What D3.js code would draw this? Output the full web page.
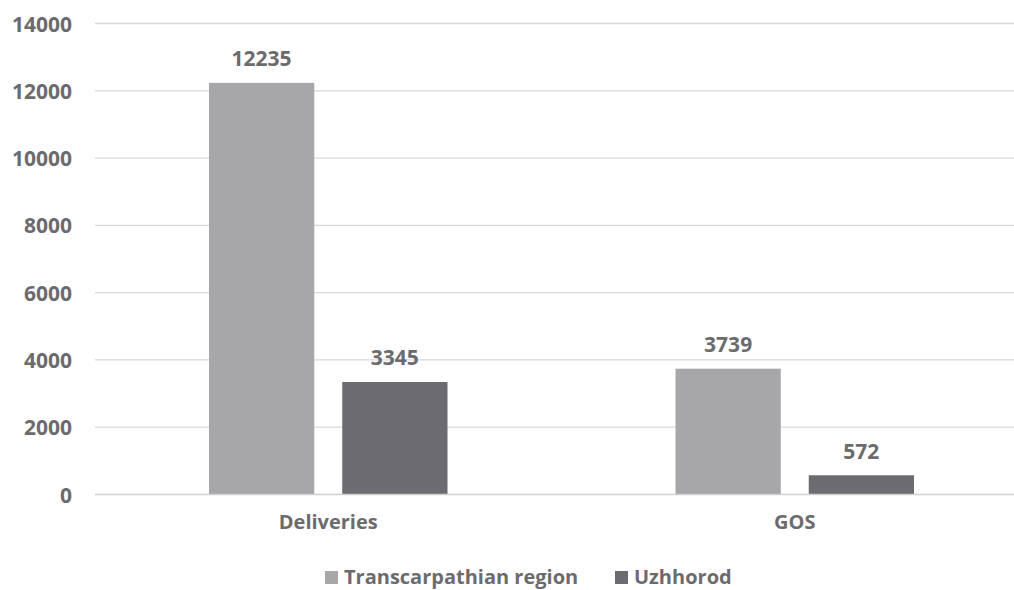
<!DOCTYPE html>
<html>
<head>
<meta charset="utf-8">
<script src="https://cdn.jsdelivr.net/npm/d3@7"></script>
<style>
    body { margin: 0; background: #fff; }
    text { font-family: "Open Sans", sans-serif; font-weight: bold; fill: #6b6b6d; }
</style>
</head>
<body>
<svg id="chart" width="1014" height="590"></svg>
<script>
(function () {
    "use strict";

    var categories = ["Deliveries", "GOS"];
    var seriesNames = ["Transcarpathian region", "Uzhhorod"];
    var regionValues = [12235, 3739];
    var uzhhorodValues = [3345, 572];
    var yTicks = [0, 2000, 4000, 6000, 8000, 10000, 12000, 14000];
    var colors = ["#a7a7aa", "#6c6c70"];

    var svg = d3.select("#chart");
    var left = 95, right = 1028, top = 23.5, bottom = 494.5;

    var x0 = d3.scaleBand().domain(categories).range([left, right]);
    var x1 = d3.scaleBand().domain(seriesNames)
        .range([114, x0.bandwidth() - 114]).paddingInner(0.21);
    var y = d3.scaleLinear().domain([0, 14000]).range([bottom, top]);

    // gridlines
    svg.append("g")
        .selectAll("line")
        .data(yTicks.slice(1))
        .enter().append("line")
        .attr("x1", left).attr("x2", 1014)
        .attr("y1", function(d){ return y(d); })
        .attr("y2", function(d){ return y(d); })
        .attr("stroke", "#d9d9d9").attr("stroke-width", 1.3);

    // y labels
    var yAxis = svg.append("g")
        .attr("transform", "translate(72,0)")
        .call(d3.axisLeft(y).tickValues(yTicks).tickFormat(d3.format("d"))
            .tickSize(0).tickPadding(0));
    yAxis.select(".domain").remove();
    yAxis.selectAll("text")
        .attr("font-size", 21).attr("fill", null)
        .attr("font-family", null).attr("dy", "0.36em");

    var rows = categories.map(function(c, i){
        return { cat: c, vals: [regionValues[i], uzhhorodValues[i]] };
    });

    var groups = svg.append("g").selectAll("g")
        .data(rows)
        .enter().append("g")
        .attr("transform", function(d){ return "translate(" + x0(d.cat) + ",0)"; });

    var cells = groups.selectAll("g")
        .data(function(d){
            return d.vals.map(function(v, j){ return { name: seriesNames[j], v: v, j: j }; });
        })
        .enter().append("g");

    cells.append("rect")
        .attr("x", function(d){ return x1(d.name); })
        .attr("width", x1.bandwidth())
        .attr("y", function(d){ return y(d.v); })
        .attr("height", function(d){ return y(0) - y(d.v); })
        .attr("fill", function(d){ return colors[d.j]; });

    cells.append("text")
        .attr("x", function(d){ return x1(d.name) + x1.bandwidth() / 2; })
        .attr("y", function(d){ return y(d.v) - 16.5; })
        .attr("text-anchor", "middle")
        .attr("font-size", 21)
        .text(function(d){ return d.v; });

    // x axis
    svg.append("line")
        .attr("x1", left).attr("x2", 1014)
        .attr("y1", bottom).attr("y2", bottom)
        .attr("stroke", "#d0d0d0").attr("stroke-width", 1.5);

    var xAxis = svg.append("g")
        .attr("transform", "translate(0," + bottom + ")")
        .call(d3.axisBottom(x0).tickSize(0).tickPadding(0));
    xAxis.select(".domain").remove();
    xAxis.selectAll("text")
        .attr("font-size", 20).attr("fill", null)
        .attr("font-family", null).attr("dy", "1.72em");

    // legend
    var legendX = [325, 615];
    var legend = svg.append("g").selectAll("g")
        .data(seriesNames)
        .enter().append("g")
        .attr("transform", function(d, i){ return "translate(" + legendX[i] + ",571)"; });
    legend.append("rect")
        .attr("width", 13).attr("height", 13)
        .attr("fill", function(d, i){ return colors[i]; });
    legend.append("text")
        .attr("x", 19).attr("y", 13)
        .attr("font-size", 20)
        .text(function(d){ return d; });
}());
</script>
</body>
</html>
